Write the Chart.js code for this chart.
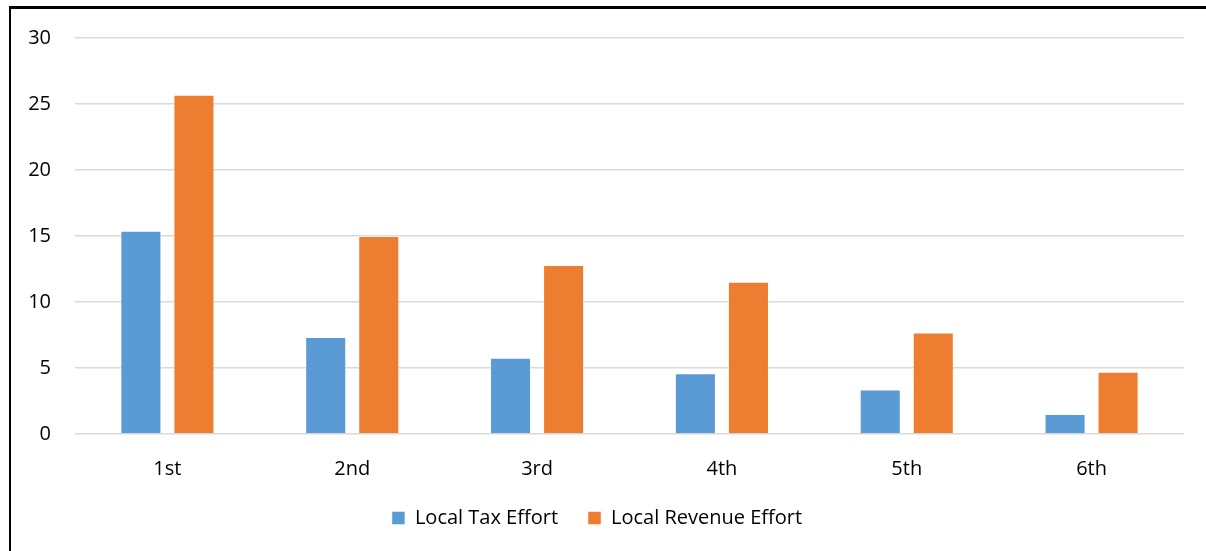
<!DOCTYPE html>
<html>
<head>
<meta charset="utf-8">
<script src="https://cdn.jsdelivr.net/npm/chart.js@4"></script>
<style>
  html, body { margin: 0; padding: 0; background: #fff; }
  body { width: 1206px; height: 551px; position: relative; overflow: hidden; }
  #frame {
    position: absolute; left: 9px; top: 6px; width: 1300px; height: 600px;
    border-top: 3px solid #000; border-left: 2px solid #000; box-sizing: border-box;
  }
  #wrap { position: absolute; left: 10px; top: 2px; width: 1196px; height: 549px; }
</style>
</head>
<body>
<div id="frame"></div>
<div id="wrap"><canvas id="grafico"></canvas></div>
<script>
const categorias = ['1st', '2nd', '3rd', '4th', '5th', '6th'];
const taxEffort = [15.4, 7.35, 5.77, 4.6, 3.38, 1.51];
const revenueEffort = [25.7, 15.0, 12.8, 11.54, 7.69, 4.71];
const yTicks = [0, 5, 10, 15, 20, 25, 30];

const fonte = { family: '"Open Sans", "Liberation Sans", sans-serif', size: 20 };
const ctx = document.getElementById('grafico');

const chart = new Chart(ctx, {
    type: 'bar',
    data: {
        labels: categorias,
        datasets: [{
            label: 'Local Tax Effort',
            data: taxEffort,
            backgroundColor: '#5B9BD5',
            borderColor: 'rgba(255,255,255,0.45)',
            borderWidth: 1,
            barPercentage: 0.774,
            categoryPercentage: 0.574
        }, {
            label: 'Local Revenue Effort',
            data: revenueEffort,
            backgroundColor: '#ED7D31',
            borderColor: 'rgba(255,255,255,0.45)',
            borderWidth: 1,
            barPercentage: 0.774,
            categoryPercentage: 0.574
        }]
    },
    options: {
        responsive: true,
        maintainAspectRatio: false,
        animation: false,
        layout: { padding: { top: 12, right: 22, left: 0, bottom: 13 } },
        plugins: {
            tooltip: { enabled: false },
            legend: {
                position: 'bottom',
                labels: {
                    font: fonte,
                    color: '#000',
                    boxWidth: 13,
                    boxHeight: 13,
                    padding: 30,
                    useBorderRadius: false
                }
            }
        },
        scales: {
            x: {
                grid: { display: false, drawTicks: false },
                border: { display: false },
                ticks: { font: fonte, color: '#000', padding: 23 },
                afterFit: (s) => { s.height = 44; }
            },
            y: {
                min: 0,
                max: 30,
                afterBuildTicks: (s) => { s.ticks = yTicks.map(v => ({ value: v })); },
                grid: { color: '#d9d9d9', lineWidth: 1.5, drawTicks: false },
                border: { display: false },
                ticks: { font: fonte, color: '#000', padding: 24 },
                afterFit: (s) => { s.width = 65; }
            }
        }
    }
});
</script>
</body>
</html>
